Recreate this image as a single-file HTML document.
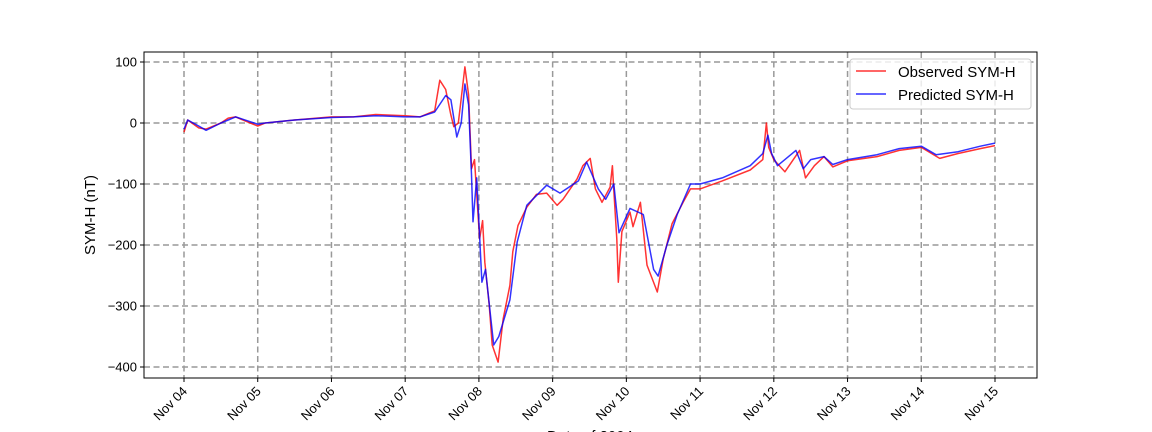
<!DOCTYPE html>
<html><head><meta charset="utf-8"><style>
body{margin:0;background:#fff;}
svg{display:block;font-family:"Liberation Sans","DejaVu Sans",sans-serif;}
</style></head><body>
<svg id="chart" width="1152" height="432">
<g id="grid"></g>
<g id="series"></g>
<rect x="144" y="52" width="893" height="326" fill="none" stroke="#000" stroke-width="1"/>
<g id="axes"></g>
<text x="0" y="0" transform="translate(95,215) rotate(-90)" text-anchor="middle" font-size="15">SYM-H (nT)</text>
<text x="590" y="441" text-anchor="middle" font-size="15">Date of 2004</text>
<g>
<rect x="850" y="59" width="181" height="50" rx="3" fill="#fff" fill-opacity="0.8" stroke="#ccc"/>
<line x1="856" y1="71" x2="886" y2="71" stroke="red" stroke-opacity="0.8" stroke-width="1.5"/>
<text x="898" y="77" font-size="15">Observed SYM-H</text>
<line x1="856" y1="94" x2="886" y2="94" stroke="blue" stroke-opacity="0.8" stroke-width="1.5"/>
<text x="898" y="100" font-size="15">Predicted SYM-H</text>
</g>
</svg>
<script>
const xTickLabels=["Nov 04","Nov 05","Nov 06","Nov 07","Nov 08","Nov 09","Nov 10","Nov 11","Nov 12","Nov 13","Nov 14","Nov 15"];
const yTicks=[100,0,-100,-200,-300,-400];
const obsDays=[0,0.05,0.2,0.3,0.5,0.6,0.7,0.8,1.0,1.1,1.5,2.0,2.3,2.6,3.0,3.2,3.4,3.47,3.55,3.62,3.66,3.72,3.75,3.81,3.86,3.9,3.94,4.01,4.05,4.08,4.14,4.18,4.26,4.33,4.42,4.46,4.53,4.65,4.78,4.92,5.06,5.14,5.33,5.41,5.51,5.58,5.67,5.78,5.81,5.83,5.87,5.89,5.94,6.05,6.09,6.19,6.28,6.42,6.5,6.62,6.77,6.87,7.0,7.3,7.68,7.85,7.9,7.93,8.0,8.15,8.35,8.43,8.55,8.68,8.8,9.0,9.4,9.7,10.0,10.25,10.5,10.8,11.0];
const obsVals=[-15,5,-8,-10,0,8,10,5,-5,0,5,10,10,14,12,10,20,70,55,13,-6,0,30,92,46,-75,-60,-190,-160,-228,-298,-364,-392,-321,-266,-211,-168,-138,-117,-115,-135,-125,-92,-70,-58,-108,-130,-105,-70,-110,-190,-261,-178,-146,-170,-130,-233,-277,-223,-165,-130,-108,-108,-95,-77,-60,0,-40,-60,-80,-45,-90,-70,-55,-72,-62,-55,-45,-40,-58,-50,-42,-37];
const predDays=[0,0.05,0.2,0.3,0.5,0.6,0.7,0.8,1.0,1.1,1.5,2.0,2.3,2.6,3.0,3.2,3.4,3.55,3.62,3.7,3.76,3.81,3.86,3.9,3.92,3.97,4.04,4.09,4.2,4.27,4.42,4.52,4.65,4.92,5.1,5.35,5.46,5.62,5.72,5.83,5.9,6.05,6.23,6.37,6.43,6.55,6.69,6.87,7.0,7.3,7.68,7.85,7.92,7.97,8.05,8.15,8.3,8.4,8.5,8.68,8.8,9.0,9.4,9.7,10.0,10.2,10.5,10.8,11.0];
const predVals=[-10,5,-5,-12,0,5,10,6,-2,0,5,9,10,12,10,10,18,45,38,-23,0,64,30,-85,-162,-90,-261,-240,-364,-350,-290,-195,-135,-102,-115,-95,-64,-108,-125,-100,-180,-140,-150,-240,-251,-200,-150,-100,-100,-90,-70,-50,-20,-50,-70,-60,-45,-75,-60,-55,-68,-60,-52,-42,-38,-52,-47,-38,-33];
const L=144,R=1037,T=52,B=378,x0=184,dx=(995-184)/11,y0=123,ky=0.61;
const X=d=>x0+d*dx, Y=v=>y0-v*ky;
const NS="http://www.w3.org/2000/svg";
const grid=document.getElementById('grid'),axes=document.getElementById('axes'),ser=document.getElementById('series');
function mk(tag,attrs,parent){const e=document.createElementNS(NS,tag);for(const k in attrs)e.setAttribute(k,attrs[k]);parent.appendChild(e);return e;}
xTickLabels.forEach((lab,i)=>{const x=X(i);
 const g=mk('line',{x1:x,y1:T,x2:x,y2:B,stroke:'#999','stroke-width':1.5,'stroke-dasharray':'6,3.5'},grid);
 
 
 const t=mk('line',{x1:x,y1:B,x2:x,y2:B+4,stroke:'#000'},axes);
 
 
 const tx=mk('text',{x:0,y:0,'font-size':13,'text-anchor':'end',transform:`translate(${x+4},${B+14}) rotate(-45)`},axes);
 tx.textContent=lab;
 
 
});
yTicks.forEach(v=>{const y=Y(v);
 const g=mk('line',{x1:L,y1:y,x2:R,y2:y,stroke:'#999','stroke-width':1.5,'stroke-dasharray':'6,3.5'},grid);
 
 
 const t=mk('line',{x1:L-4,y1:y,x2:L,y2:y,stroke:'#000'},axes);
 
 
 const tx=mk('text',{x:L-7,y:y+4.5,'font-size':13,'text-anchor':'end'},axes);
 tx.textContent=v===0?'0':(v<0?'\u2212'+(-v):String(v));
 
 
});
function line(days,vals,color,name){
 const d=days.map((t,i)=>(i?'L':'M')+X(t).toFixed(1)+','+Y(vals[i]).toFixed(1)).join('');
 const p=mk('path',{d:d,fill:'none',stroke:color,'stroke-opacity':0.8,'stroke-width':1.5,'stroke-linejoin':'round'},ser);
 
 
}
line(obsDays,obsVals,'red','observed-line');
line(predDays,predVals,'blue','predicted-line');
</script>
</body></html>
